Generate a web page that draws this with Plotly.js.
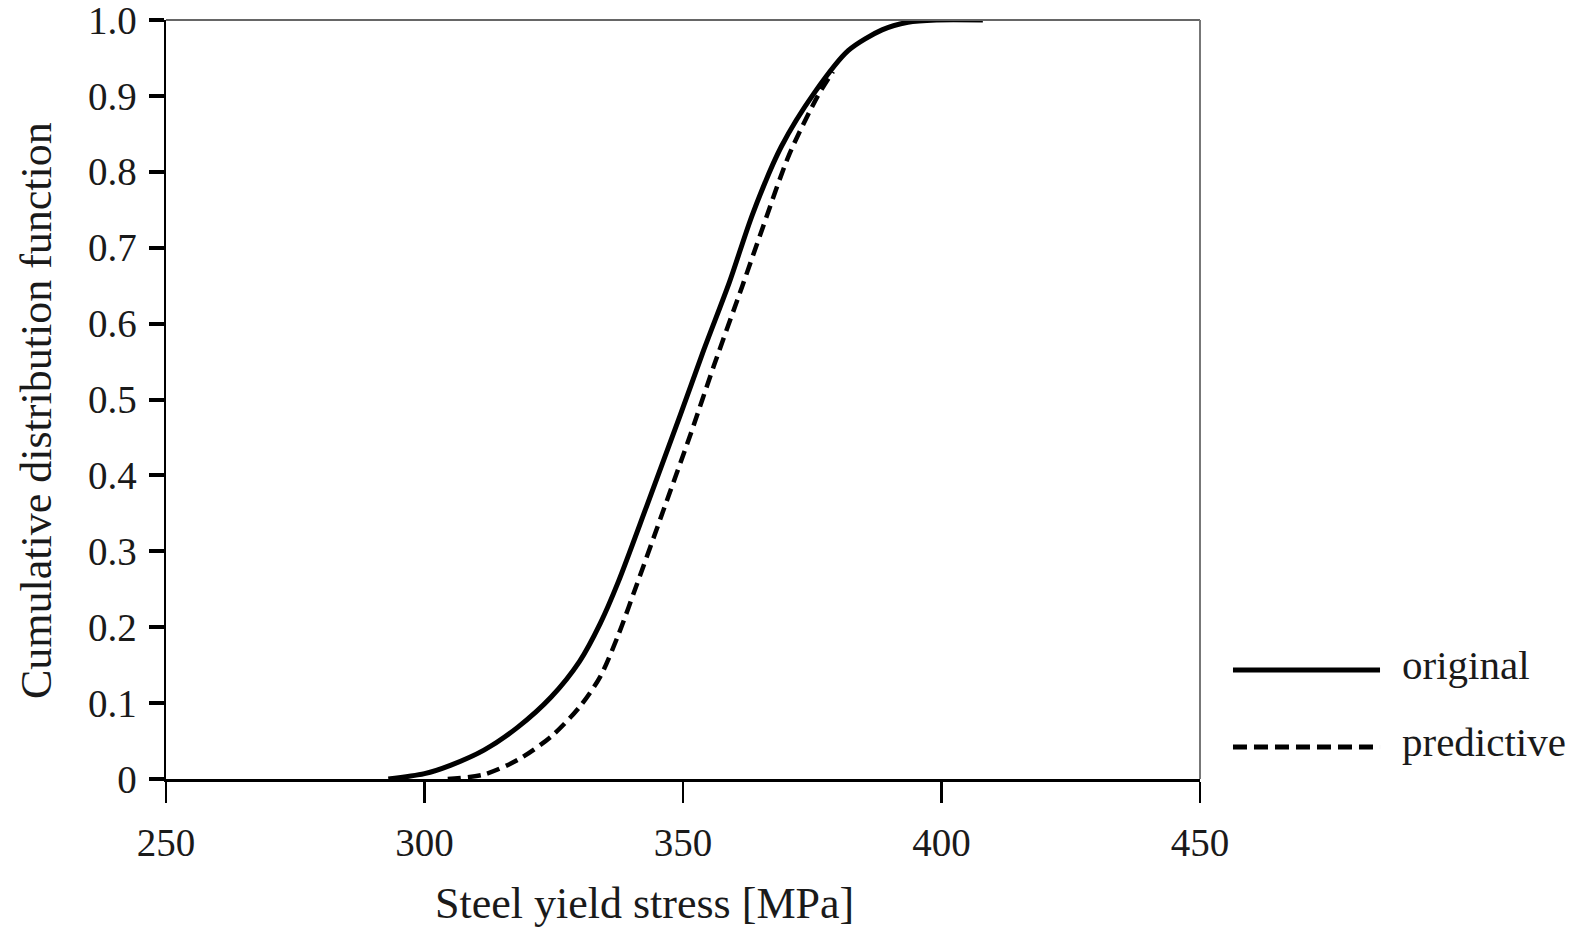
<!DOCTYPE html>
<html>
<head>
<meta charset="utf-8">
<script src="https://cdn.plot.ly/plotly-3.0.1.min.js"></script>
<style>html,body{margin:0;padding:0;background:#fff;}#chart{width:1580px;height:933px;}</style>
</head>
<body>
<div id="chart"></div>
<script>
// Steel yield stress [MPa] vs CDF
const originalX = [293, 300, 305, 311.5, 318, 324.5, 330, 334, 337.5, 343, 349.5, 354, 359, 363.5, 369, 375.5, 382, 388.5, 393.5, 399, 408];
const originalY = [0, 0.007, 0.018, 0.038, 0.068, 0.108, 0.155, 0.205, 0.26, 0.36, 0.48, 0.565, 0.655, 0.745, 0.833, 0.905, 0.96, 0.987, 0.997, 1.0, 1.0];

const predictiveX = [304.5, 311.5, 318, 324.5, 330, 334, 337.5, 341, 346, 351.5, 356, 361.5, 365.5, 370.5, 376, 379];
const predictiveY = [0, 0.006, 0.025, 0.056, 0.095, 0.135, 0.19, 0.255, 0.35, 0.455, 0.545, 0.65, 0.728, 0.822, 0.899, 0.932];

const xTickVals = [250, 300, 350, 400, 450];
const xTickText = ['250', '300', '350', '400', '450'];
const yTickVals = [0, 0.1, 0.2, 0.3, 0.4, 0.5, 0.6, 0.7, 0.8, 0.9, 1.0];
const yTickText = ['0', '0.1', '0.2', '0.3', '0.4', '0.5', '0.6', '0.7', '0.8', '0.9', '1.0'];

const seriesNames = ['original', 'predictive'];
const xTitle = 'Steel yield stress [MPa]';
const yTitle = 'Cumulative distribution function';

const FONT = 'Liberation Serif, Times New Roman, serif';
const INK = '#1a1a1a';

const traces = [
  {x: originalX, y: originalY, type: 'scatter', mode: 'lines', name: seriesNames[0],
   line: {color: '#000', width: 5, shape: 'spline', smoothing: 0.8}, cliponaxis: false},
  {x: predictiveX, y: predictiveY, type: 'scatter', mode: 'lines', name: seriesNames[1],
   line: {color: '#000', width: 4.5, dash: '13px,7px', shape: 'spline', smoothing: 0.8}, cliponaxis: false}
];

const layout = {
  width: 1580, height: 933,
  margin: {l: 166, r: 380, t: 20, b: 154},
  paper_bgcolor: '#fff', plot_bgcolor: '#fff',
  showlegend: false,
  font: {family: FONT, color: INK, size: 39},
  xaxis: {
    range: [250, 450], tickvals: xTickVals, ticktext: xTickText,
    showgrid: false, zeroline: false, showline: true, linecolor: '#000', linewidth: 2.5,
    ticks: 'outside', ticklen: 21, tickwidth: 2.5, tickcolor: '#000',
    tickfont: {family: FONT, size: 39, color: INK}, ticklabelstandoff: 7,
    ticklabeloverflow: 'allow'
  },
  yaxis: {
    range: [0, 1], tickvals: yTickVals, ticktext: yTickText,
    showgrid: false, zeroline: false, showline: true, linecolor: '#000', linewidth: 2.5,
    ticks: 'outside', ticklen: 15, tickwidth: 4, tickcolor: '#000',
    tickfont: {family: FONT, size: 39, color: INK}, ticklabelstandoff: 4,
    ticklabeloverflow: 'allow'
  },
  shapes: [
    // top and right frame (thin grey)
    {type: 'line', xref: 'paper', yref: 'paper', x0: 0, x1: 1, y0: 1, y1: 1, line: {color: '#666', width: 2}},
    {type: 'line', xref: 'paper', yref: 'paper', x0: 1, x1: 1, y0: 0, y1: 1, line: {color: '#777', width: 2}},
    // legend samples
    {type: 'line', xref: 'paper', yref: 'paper', x0: 1.0319, x1: 1.1741, y0: 0.1436, y1: 0.1436, line: {color: '#000', width: 5}},
    {type: 'line', xref: 'paper', yref: 'paper', x0: 1.0319, x1: 1.1741, y0: 0.0422, y1: 0.0422, line: {color: '#000', width: 5, dash: '14px,7px'}}
  ],
  annotations: [
    {text: xTitle, xref: 'paper', yref: 'paper', x: 0.4623, y: -0.1634, xanchor: 'center', yanchor: 'middle',
     showarrow: false, font: {family: FONT, size: 44, color: INK}},
    {text: yTitle, xref: 'paper', yref: 'paper', x: -0.1257, y: 0.4848, xanchor: 'center', yanchor: 'middle',
     textangle: -90, showarrow: false, font: {family: FONT, size: 44, color: INK}},
    {text: seriesNames[0], xref: 'paper', yref: 'paper', x: 1.1934, y: 0.150, xanchor: 'left', yanchor: 'middle',
     showarrow: false, font: {family: FONT, size: 41, color: INK}},
    {text: seriesNames[1], xref: 'paper', yref: 'paper', x: 1.1934, y: 0.0487, xanchor: 'left', yanchor: 'middle',
     showarrow: false, font: {family: FONT, size: 41, color: INK}}
  ]
};

Plotly.newPlot('chart', traces, layout, {displayModeBar: false, staticPlot: true});
</script>
</body>
</html>
